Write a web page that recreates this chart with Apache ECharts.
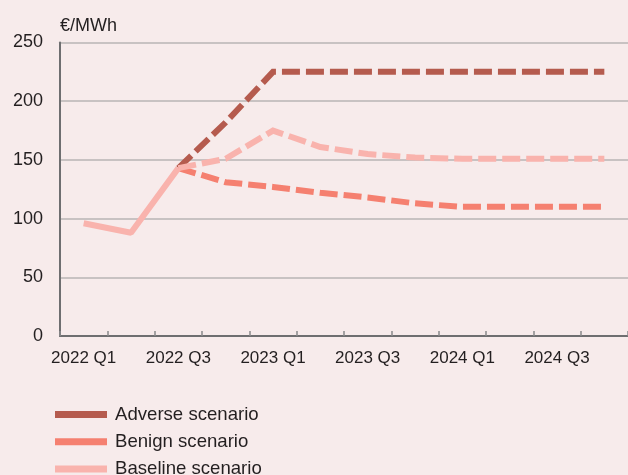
<!DOCTYPE html>
<html>
<head>
<meta charset="utf-8">
<script src="https://cdn.jsdelivr.net/npm/echarts@6/dist/echarts.min.js"></script>
<style>
html,body{margin:0;padding:0;background:#f7ebeb;}
#c{width:628px;height:475px;}
</style>
</head>
<body>
<div id="c"></div>
<script>
const categories = ['2022 Q1','2022 Q2','2022 Q3','2022 Q4','2023 Q1','2023 Q2','2023 Q3','2023 Q4','2024 Q1','2024 Q2','2024 Q3','2024 Q4'];
const history  = [96, 88, 143, null, null, null, null, null, null, null, null, null];
const adverse  = [null, null, 143, 182, 225, 225, 225, 225, 225, 225, 225, 225];
const benign   = [null, null, 143, 131, 127, 122, 118, 113, 110, 110, 110, 110];
const baseline = [null, null, 143, 151, 175, 161, 155, 152, 151, 151, 151, 151];
const yTicks = {min: 0, max: 250, interval: 50};
const unitLabel = '€/MWh';

const FONT = '"Liberation Sans", Arial, sans-serif';
const TXT = '#231f20';
const C_ADV = '#b55b4e', C_BEN = '#f58070', C_BAS = '#f9b3ad';

const chart = echarts.init(document.getElementById('c'), null, {renderer: 'canvas'});
function dashed(name, data, color) {
  return {
    name, type: 'line', data, showSymbol: false, symbol: 'none', silent: true,
    lineStyle: {color, width: 6, type: [18, 6], cap: 'butt', join: 'miter'},
    itemStyle: {color}
  };
}
chart.setOption({
  backgroundColor: '#f7ebeb',
  animation: false,
  textStyle: {fontFamily: FONT},
  grid: {left: 60, top: 42.5, right: -4, bottom: 139, containLabel: false},
  legend: {
    data: ['Adverse scenario', 'Benign scenario', 'Baseline scenario'],
    orient: 'vertical', left: 55, top: 405, height: 120, padding: 0, itemGap: 8.2,
    itemWidth: 52, itemHeight: 7, icon: 'rect',
    textStyle: {fontSize: 18.6, color: TXT, fontFamily: FONT, lineHeight: 18, padding: [0, 0, 0, 3]}
  },
  xAxis: {
    type: 'category', data: categories, boundaryGap: true,
    axisLine: {lineStyle: {color: '#6e6e70', width: 2}},
    axisTick: {show: true, inside: true, length: 5, interval: 0, lineStyle: {color: '#8a8a8c', width: 1.5}},
    axisLabel: {interval: 1, fontSize: 17, color: TXT, margin: 14, fontFamily: FONT},
    splitLine: {show: false}
  },
  yAxis: {
    type: 'value', min: yTicks.min, max: yTicks.max, interval: yTicks.interval,
    name: unitLabel, nameLocation: 'end', nameGap: 16,
    nameTextStyle: {align: 'left', verticalAlign: 'middle', fontSize: 18, color: TXT, fontFamily: FONT},
    axisLine: {show: true, lineStyle: {color: '#6e6e70', width: 2}},
    axisTick: {show: false},
    axisLabel: {fontSize: 18, color: TXT, margin: 17, fontFamily: FONT},
    splitLine: {lineStyle: {color: '#b8b4b4', width: 1.5}}
  },
  series: [
    dashed('Adverse scenario', adverse, C_ADV),
    dashed('Benign scenario', benign, C_BEN),
    dashed('Baseline scenario', baseline, C_BAS),
    {
      name: 'History', type: 'line', data: history, showSymbol: false, symbol: 'none', silent: true,
      lineStyle: {color: C_BAS, width: 6, cap: 'butt'}, itemStyle: {color: C_BAS}
    }
  ]
});
</script>
</body>
</html>
